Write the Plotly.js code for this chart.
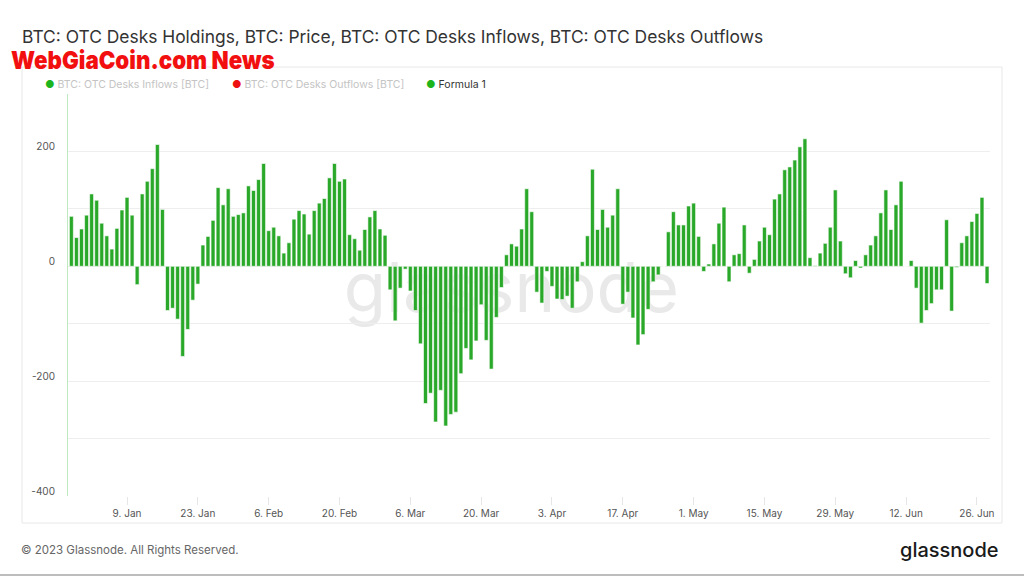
<!DOCTYPE html>
<html>
<head>
<meta charset="utf-8">
<script src="https://cdn.plot.ly/plotly-3.0.1.min.js"></script>
<style>
html,body{margin:0;padding:0;background:#fff;}
#chart{width:1024px;height:576px;}
</style>
</head>
<body>
<div id="chart"></div>
<script>
// Daily "Formula 1" values (BTC), one array per month; series starts 2022-12-29
const startDate = '2022-12-29';
const dec22 = [87, 50, 65];
const jan23 = [89, 126, 115, 75, 53, 30, 66, 98, 120, 89, -32, 126, 148, 170, 212, 99, -77, -73, -92, -157, -110, -59, -31, 37, 52, 80, 137, 107, 135, 87, 90];
const feb23 = [93, 140, 132, 151, 179, 62, 68, 53, 23, 41, 82, 97, 91, 56, 97, 110, 118, 154, 179, 148, 152, 55, 48, 28, 64, 86, 97, 65];
const mar23 = [54, -41, -95, -38, -5, -43, -77, -135, -239, -221, -271, -216, -278, -258, -254, -187, -143, -163, -130, -67, -129, -179, -89, -37, 20, 39, 35, 65, 135, 95, -45];
const apr23 = [-64, -9, -35, -57, -58, -52, -73, -27, 8, 53, 169, 64, 99, 68, 89, 135, -66, -45, -90, -137, -119, -75, -27, -15, 0, 60, 95, 72, 72, 105];
const may23 = [110, 52, -9, 4, 39, 75, 103, -27, 20, 22, 72, -12, 12, 44, 68, 55, 117, 126, 168, 173, 185, 208, 222, 15, 1, 23, 40, 68, 133, 44, -13];
const jun23 = [-20, 10, -3, 20, 37, 53, 93, 133, 64, 107, 148, 0, 10, -38, -99, -77, -65, -41, -41, 81, -78, -2, 41, 53, 78, 92, 120, -30];

const tickDates = ['2023-01-09','2023-01-23','2023-02-06','2023-02-20','2023-03-06','2023-03-20','2023-04-03','2023-04-17','2023-05-01','2023-05-15','2023-05-29','2023-06-12','2023-06-26'];
const tickLabels = ['9. Jan','23. Jan','6. Feb','20. Feb','6. Mar','20. Mar','3. Apr','17. Apr','1. May','15. May','29. May','12. Jun','26. Jun'];
const yTickVals = [-400, -200, 0, 200];
const yTickLabels = ['-400', '-200', '0', '200'];

const values = [].concat(dec22, jan23, feb23, mar23, apr23, may23, jun23);
const dates = [];
const d0 = new Date(startDate + 'T00:00:00Z');
for (let i = 0; i < values.length; i++) {
  const d = new Date(d0.getTime() + i * 86400000);
  dates.push(d.toISOString().slice(0, 10));
}

const trace = {
  type: 'bar',
  x: dates,
  y: values,
  marker: {color: '#29a829', line: {color: '#ffffff', width: 0.6}},
  showlegend: false,
  hoverinfo: 'x+y'
};

const layout = {
  width: 1024, height: 576,
  margin: {l: 68, r: 34, t: 94, b: 80},
  paper_bgcolor: '#ffffff',
  plot_bgcolor: '#ffffff',
  bargap: 0.22,
  font: {family: 'Inter, "Open Sans", sans-serif', color: '#555'},
  title: {
    text: 'BTC: OTC Desks Holdings, BTC: Price, BTC: OTC Desks Inflows, BTC: OTC Desks Outflows',
    x: 22/1024, xref: 'container', xanchor: 'left',
    y: 1 - 37/576, yref: 'container', yanchor: 'middle',
    font: {family: 'Inter, "Open Sans", sans-serif', size: 17.4, color: '#333333'}
  },
  xaxis: {
    type: 'date',
    range: ['2022-12-28 08:00', '2023-06-28 14:00'],
    tickvals: tickDates,
    ticktext: tickLabels,
    tickangle: 0,
    showgrid: false,
    zeroline: false,
    showline: false,
    ticks: 'outside', ticklen: 8, tickcolor: '#e6e6e6',
    tickfont: {size: 10, color: '#555'}
  },
  yaxis: {
    range: [-400, 300],
    tickvals: yTickVals,
    ticktext: yTickLabels,
    showgrid: true, gridcolor: '#eeeeee', gridwidth: 1,
    minor: {dtick: 100, tick0: 0, showgrid: true, gridcolor: '#eeeeee', gridwidth: 1},
    zeroline: false,
    showline: true, linecolor: '#bfe9bf', linewidth: 1,
    ticks: '', ticklabelstandoff: 10, ticklabelshift: -5,
    tickfont: {size: 10, color: '#555'}
  },
  shapes: [
    {type: 'rect', xref: 'paper', yref: 'paper',
     x0: (22-68)/922, x1: (1002-68)/922, y0: (496-523)/402, y1: (496-67)/402,
     line: {color: '#e8e8e8', width: 1}, fillcolor: 'rgba(0,0,0,0)', layer: 'below'},
    {type: 'rect', xref: 'paper', yref: 'paper', x0: 0.181, x1: 0.781, y0: 0.425, y1: 0.625,
     line: {width: 0}, fillcolor: 'rgba(0,0,0,0)', layer: 'below',
     label: {text: 'glassnode', font: {family: 'Inter, "Open Sans", sans-serif', size: 69, color: '#e9e9e9'},
             textposition: 'middle center'}},
    {type: 'line', xref: 'paper', yref: 'paper', x0: -68/922, x1: (1024-68)/922,
     y0: (496-575)/402, y1: (496-575)/402, line: {color: '#bdbdbd', width: 2}}
  ],
  annotations: [
    {xref: 'paper', yref: 'paper', x: (9-68)/922, y: (496-60)/402, xanchor: 'left', yanchor: 'middle',
     text: 'WebGiaCoin.com News', showarrow: false,
     font: {family: 'Inter, Roboto, "DejaVu Sans", sans-serif', size: 25, color: '#f20f0f', weight: 900}},
    {xref: 'paper', yref: 'paper', x: (43-68)/922, y: (496-84)/402, xanchor: 'left', yanchor: 'middle',
     text: '<span style="color:#1db51d">●</span> BTC: OTC Desks Inflows [BTC]', showarrow: false,
     font: {family: 'Inter, sans-serif', size: 10.5, color: '#c4c4c4'}},
    {xref: 'paper', yref: 'paper', x: (230-68)/922, y: (496-84)/402, xanchor: 'left', yanchor: 'middle',
     text: '<span style="color:#ee1111">●</span> BTC: OTC Desks Outflows [BTC]', showarrow: false,
     font: {family: 'Inter, sans-serif', size: 10.5, color: '#c4c4c4'}},
    {xref: 'paper', yref: 'paper', x: (424-68)/922, y: (496-84)/402, xanchor: 'left', yanchor: 'middle',
     text: '<span style="color:#1db51d">●</span> Formula 1', showarrow: false,
     font: {family: 'Inter, sans-serif', size: 10.5, color: '#333333'}},
    {xref: 'paper', yref: 'paper', x: (19-68)/922, y: (496-550)/402, xanchor: 'left', yanchor: 'middle',
     text: '© 2023 Glassnode. All Rights Reserved.', showarrow: false,
     font: {family: 'Inter, sans-serif', size: 11.5, color: '#666666'}},
    {xref: 'paper', yref: 'paper', x: (1001-68)/922, y: (496-550)/402, xanchor: 'right', yanchor: 'middle',
     text: 'glassnode', showarrow: false,
     font: {family: 'Inter, "Open Sans", sans-serif', size: 20, color: '#1a1a1a', weight: 500}}
  ]
};

Plotly.newPlot('chart', [trace], layout, {displayModeBar: false, staticPlot: true}).then(function () {
  // squeeze the red overlay caption horizontally to match its condensed look
  const el = document.querySelector('.annotation .annotation-text');
  if (el) {
    const bb = el.getBBox();
    const target = 264;
    if (bb.width > 0) {
      const s = target / bb.width;
      const prev = el.getAttribute('transform') || '';
      el.setAttribute('transform', prev + ' translate(' + bb.x + ',0) scale(' + s + ',1) translate(' + (-bb.x) + ',0)');
    }
  }
});
</script>
</body>
</html>
